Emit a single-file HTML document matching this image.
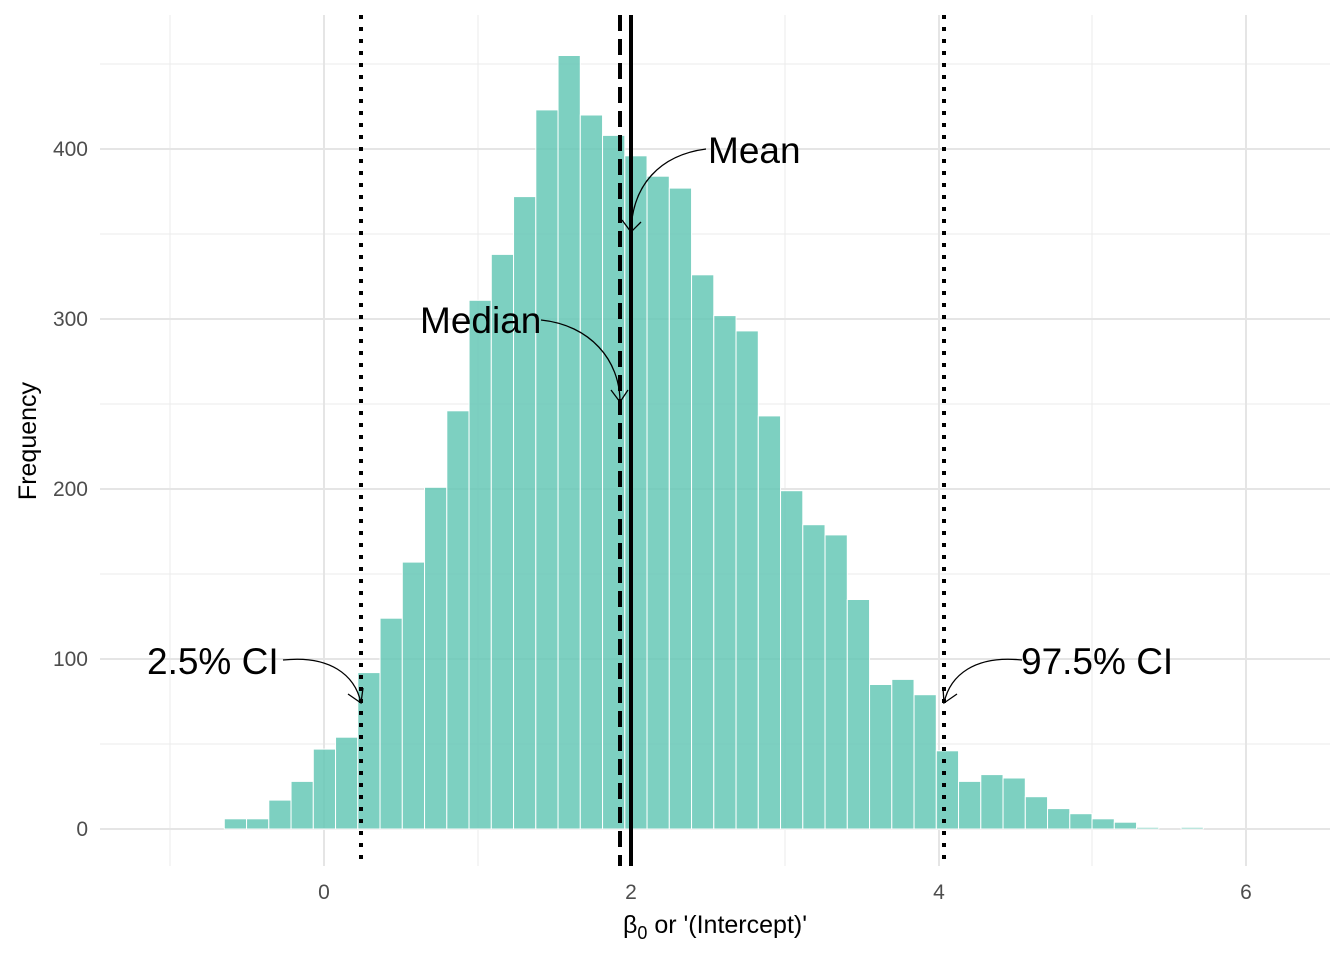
<!DOCTYPE html>
<html><head><meta charset="utf-8"><style>
html,body{margin:0;padding:0;background:#fff;}
svg{display:block;font-family:"Liberation Sans",Arial,sans-serif;}
</style></head><body>
<svg width="1344" height="960" viewBox="0 0 1344 960" xmlns="http://www.w3.org/2000/svg">
<g stroke="#ebebeb" stroke-width="1">
<line x1="100" x2="1330" y1="744" y2="744"/><line x1="100" x2="1330" y1="574" y2="574"/>
<line x1="100" x2="1330" y1="404" y2="404"/><line x1="100" x2="1330" y1="234" y2="234"/>
<line x1="100" x2="1330" y1="64" y2="64"/>
<line x1="170" x2="170" y1="15" y2="866"/><line x1="478" x2="478" y1="15" y2="866"/>
<line x1="785" x2="785" y1="15" y2="866"/><line x1="1092" x2="1092" y1="15" y2="866"/>
</g>
<g stroke="#e5e5e5" stroke-width="2">
<line x1="100" x2="1330" y1="829" y2="829"/><line x1="100" x2="1330" y1="659" y2="659"/>
<line x1="100" x2="1330" y1="489" y2="489"/><line x1="100" x2="1330" y1="319" y2="319"/>
<line x1="100" x2="1330" y1="149" y2="149"/>
<line x1="324" x2="324" y1="15" y2="866"/><line x1="631" x2="631" y1="15" y2="866"/>
<line x1="939" x2="939" y1="15" y2="866"/><line x1="1246" x2="1246" y1="15" y2="866"/>
</g>
<g fill="#66c8b6" fill-opacity="0.85" stroke="#fff" stroke-width="1">
<rect x="224.30" y="818.8" width="22.25" height="10.2"/>
<rect x="246.55" y="818.8" width="22.25" height="10.2"/>
<rect x="268.80" y="800.1" width="22.25" height="28.9"/>
<rect x="291.05" y="781.4" width="22.25" height="47.6"/>
<rect x="313.30" y="749.1" width="22.25" height="79.9"/>
<rect x="335.55" y="737.2" width="22.25" height="91.8"/>
<rect x="357.80" y="672.6" width="22.25" height="156.4"/>
<rect x="380.05" y="618.2" width="22.25" height="210.8"/>
<rect x="402.30" y="562.1" width="22.25" height="266.9"/>
<rect x="424.55" y="487.3" width="22.25" height="341.7"/>
<rect x="446.80" y="410.8" width="22.25" height="418.2"/>
<rect x="469.05" y="300.3" width="22.25" height="528.7"/>
<rect x="491.30" y="254.4" width="22.25" height="574.6"/>
<rect x="513.55" y="196.6" width="22.25" height="632.4"/>
<rect x="535.80" y="109.9" width="22.25" height="719.1"/>
<rect x="558.05" y="55.5" width="22.25" height="773.5"/>
<rect x="580.30" y="115" width="22.25" height="714"/>
<rect x="602.55" y="135.4" width="22.25" height="693.6"/>
<rect x="624.80" y="155.8" width="22.25" height="673.2"/>
<rect x="647.05" y="176.2" width="22.25" height="652.8"/>
<rect x="669.30" y="188.1" width="22.25" height="640.9"/>
<rect x="691.55" y="274.8" width="22.25" height="554.2"/>
<rect x="713.80" y="315.6" width="22.25" height="513.4"/>
<rect x="736.05" y="330.9" width="22.25" height="498.1"/>
<rect x="758.30" y="415.9" width="22.25" height="413.1"/>
<rect x="780.55" y="490.7" width="22.25" height="338.3"/>
<rect x="802.80" y="524.7" width="22.25" height="304.3"/>
<rect x="825.05" y="534.9" width="22.25" height="294.1"/>
<rect x="847.30" y="599.5" width="22.25" height="229.5"/>
<rect x="869.55" y="684.5" width="22.25" height="144.5"/>
<rect x="891.80" y="679.4" width="22.25" height="149.6"/>
<rect x="914.05" y="694.7" width="22.25" height="134.3"/>
<rect x="936.30" y="750.8" width="22.25" height="78.2"/>
<rect x="958.55" y="781.4" width="22.25" height="47.6"/>
<rect x="980.80" y="774.6" width="22.25" height="54.4"/>
<rect x="1003.05" y="778" width="22.25" height="51"/>
<rect x="1025.30" y="796.7" width="22.25" height="32.3"/>
<rect x="1047.55" y="808.6" width="22.25" height="20.4"/>
<rect x="1069.80" y="813.7" width="22.25" height="15.3"/>
<rect x="1092.05" y="818.8" width="22.25" height="10.2"/>
<rect x="1114.30" y="822.2" width="22.25" height="6.8"/>
<rect x="1136.55" y="827.3" width="22.25" height="1.7"/>
<rect x="1181.05" y="827.3" width="22.25" height="1.7"/>
</g>
<g stroke="#000">
<line x1="361" x2="361" y1="15" y2="866" stroke-width="4" stroke-dasharray="4,8"/>
<line x1="944" x2="944" y1="15" y2="866" stroke-width="4" stroke-dasharray="4,8"/>
<line x1="620" x2="620" y1="15" y2="866" stroke-width="4" stroke-dasharray="16,8"/>
<line x1="631" x2="631" y1="15" y2="866" stroke-width="4"/>
</g>
<g fill="none" stroke="#000" stroke-width="1.3">
<path d="M706,149 C660,155 632,185 631,232"/><path d="M622,220 L631,232 L641,222"/>
<path d="M541,320 C590,325 620,360 620,402"/><path d="M611,390 L620,402 L628,390"/>
<path d="M283,660 C330,655 355,675 361,703"/><path d="M348,694 L361,703 L363,688"/>
<path d="M1022,660 C975,655 950,675 944,703"/><path d="M943,688 L944,703 L957,694"/>
</g>
<g font-size="37" fill="#000">
<text x="708" y="163">Mean</text>
<text x="420" y="333">Median</text>
<text x="147" y="674">2.5% CI</text>
<text x="1021" y="674">97.5% CI</text>
</g>
<g font-size="21" fill="#4d4d4d" text-anchor="end">
<text x="88" y="836">0</text><text x="88" y="666">100</text><text x="88" y="496">200</text>
<text x="88" y="326">300</text><text x="88" y="156">400</text>
</g>
<g font-size="21" fill="#4d4d4d" text-anchor="middle">
<text x="324" y="899">0</text><text x="631" y="899">2</text><text x="939" y="899">4</text><text x="1246" y="899">6</text>
</g>
<text x="715" y="933" font-size="25" text-anchor="middle">β<tspan font-size="18" dy="6">0</tspan><tspan dy="-6"> or '(Intercept)'</tspan></text>
<text transform="translate(36,441) rotate(-90)" font-size="25" text-anchor="middle">Frequency</text>
</svg>
</body></html>
